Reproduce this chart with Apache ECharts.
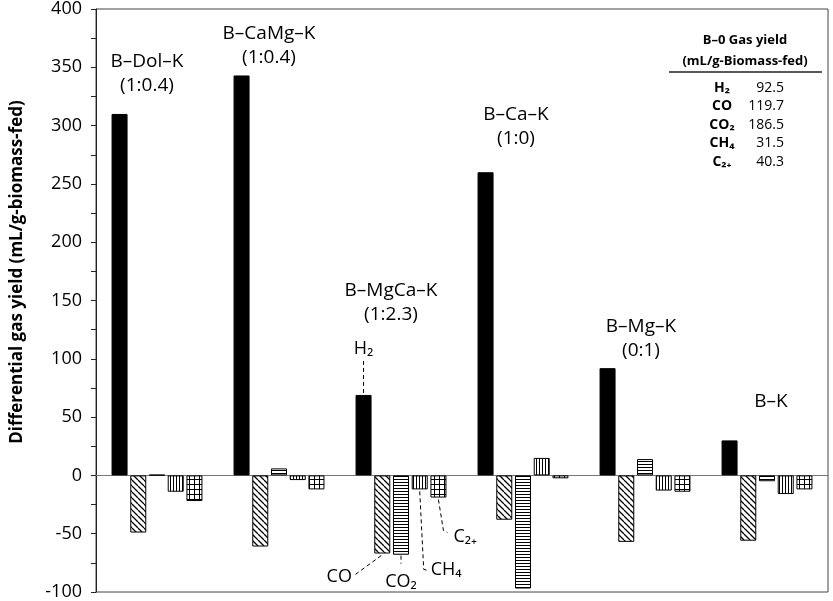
<!doctype html>
<html>
<head>
<meta charset="utf-8">
<title>Differential gas yield</title>
<script src="https://cdn.jsdelivr.net/npm/echarts@6/dist/echarts.min.js"></script>
<style>
  html, body { margin: 0; padding: 0; background: #fff; }
  #chart { width: 833px; height: 601px; }
</style>
</head>
<body>
<div id="chart"></div>
<script>
  // catalyst groups
  var catalysts = ['B–Dol–K', 'B–CaMg–K', 'B–MgCa–K', 'B–Ca–K', 'B–Mg–K', 'B–K'];
  var ratios = ['(1:0.4)', '(1:0.4)', '(1:2.3)', '(1:0)', '(0:1)', ''];
  var gases = ['H₂', 'CO', 'CO₂', 'CH₄', 'C₂₊'];

  // differential gas yield vs B-0 (mL/g-biomass-fed)
  var h2 = [310, 343, 69, 260, 92, 30];
  var co = [-49, -61, -67, -38, -57, -56];
  var co2 = [0.5, 6, -68, -97, 14, -5];
  var ch4 = [-14, -4, -12, 15, -13, -16];
  var c2plus = [-22, -12, -19, -2.5, -14, -12];

  // height (y units) of each catalyst name
  var labelY = [345, 369, 148, 299, 117, 63];

  // B-0 reference table
  var baseGases = ['H₂', 'CO', 'CO₂', 'CH₄', 'C₂₊'];
  var baseYield = ['92.5', '119.7', '186.5', '31.5', '40.3'];

  var FONT = '"Open Sans", "Noto Sans", sans-serif';
  var labelDx = [-10, -10, -10, -7, -4, 4];

  function pattern(kind) {
    var s = kind === 'diag' ? 6 : (kind === 'grid' ? 5 : 3);
    var c = document.createElement('canvas');
    c.width = s; c.height = s;
    var g = c.getContext('2d');
    g.fillStyle = '#fff';
    g.fillRect(0, 0, s, s);
    g.strokeStyle = '#000';
    g.lineWidth = kind === 'diag' ? 1.3 : 1;
    g.beginPath();
    if (kind === 'diag') {
      for (var o = -s; o <= s; o += s) { g.moveTo(o, 0); g.lineTo(o + s, s); }
    }
    if (kind === 'horiz' || kind === 'grid') { g.moveTo(0, s - 0.5); g.lineTo(s, s - 0.5); }
    if (kind === 'vert' || kind === 'grid') { g.moveTo(s - 0.5, 0); g.lineTo(s - 0.5, s); }
    g.stroke();
    return { image: c, repeat: 'repeat' };
  }

  var values = [h2, co, co2, ch4, c2plus];
  var fills = ['#000', pattern('diag'), pattern('horiz'), pattern('vert'), pattern('grid')];
  var BAR_W = 16, BAR_GAP = 0.17;

  var chart = echarts.init(document.getElementById('chart'));

  var series = gases.map(function (name, k) {
    return {
      type: 'bar',
      name: name,
      data: values[k],
      barWidth: BAR_W,
      barGap: (BAR_GAP * 100) + '%',
      silent: true,
      itemStyle: { color: fills[k], borderColor: '#000', borderWidth: 1 }
    };
  });

  function txt(x, y, s, size, extra) {
    var style = { text: s, fontFamily: FONT, fontSize: size, fill: '#000',
                  align: 'center', verticalAlign: 'middle' };
    for (var key in extra) style[key] = extra[key];
    return { type: 'text', silent: true, x: x, y: y, style: style };
  }

  // static graphic: axis title and B-0 table
  var staticGfx = [
    { type: 'text', silent: true, x: 17, y: 272, rotation: Math.PI / 2,
      style: { text: 'Differential gas yield (mL/g-biomass-fed)', fontFamily: FONT, fontSize: 17,
               fontWeight: 'bold', fill: '#000', align: 'center', verticalAlign: 'middle' } },
    txt(745, 40, 'B–0 Gas yield', 13, { fontWeight: 'bold' }),
    txt(745, 61, '(mL/g-Biomass-fed)', 13, { fontWeight: 'bold' }),
    { type: 'line', silent: true, shape: { x1: 669, y1: 72, x2: 822, y2: 72 },
      style: { stroke: '#222', lineWidth: 1.5 } }
  ];
  baseGases.forEach(function (g, i) {
    var y = 88 + i * 18.5;
    staticGfx.push(txt(722, y, g, 14, { fontWeight: 'bold' }));
    staticGfx.push(txt(784, y, baseYield[i], 14, { align: 'right' }));
  });

  var option = {
    animation: false,
    backgroundColor: '#fff',
    grid: { left: 96, right: 5, top: 9, bottom: 9, show: true, borderColor: '#444', borderWidth: 1 },
    xAxis: {
      type: 'category',
      data: catalysts,
      axisLine: { onZero: true, lineStyle: { color: '#777', width: 1 } },
      axisTick: { show: false },
      axisLabel: { show: false },
      splitLine: { show: false }
    },
    yAxis: {
      type: 'value',
      min: -100,
      max: 400,
      interval: 25,
      axisLine: { show: true, lineStyle: { color: '#222' } },
      axisTick: { show: true, length: 5, lineStyle: { color: '#222' } },
      splitLine: { show: false },
      axisLabel: {
        fontFamily: FONT, fontSize: 18, color: '#000', margin: 14,
        formatter: function (v) { return v % 50 === 0 ? String(v) : ''; }
      }
    },
    series: series,
    graphic: staticGfx
  };

  chart.setOption(option);

  var gfx = staticGfx.slice();

  // catalyst names above each group
  catalysts.forEach(function (c, i) {
    var p = chart.convertToPixel({ xAxisIndex: 0, yAxisIndex: 0 }, [i, labelY[i]]);
    var r = ratios[i];
    gfx.push(txt(p[0] + labelDx[i], p[1], c + (r ? '\n' + r : ''), 19, { lineHeight: 24 }));
  });

  // callouts on the B-MgCa-K group, offsets in px from each bar's tip
  var grp = 2;
  var callouts = [
    { k: 0, line: [[0, -2], [0, -35]], at: [0, -46], align: 'center' },
    { k: 1, line: [[-1, 2], [-27, 21]], at: [-43, 23], align: 'center' },
    { k: 2, line: [[0, 1], [0, 9]], at: [0, 27], align: 'center' },
    { k: 3, line: [[0, 2], [4, 80], [8, 81]], at: [11, 80], align: 'left' },
    { k: 4, line: [[0, 2], [5, 33], [9, 35]], at: [15, 39], align: 'left' }
  ];
  var step = BAR_W * (1 + BAR_GAP);
  callouts.forEach(function (c) {
    var p = chart.convertToPixel({ xAxisIndex: 0, yAxisIndex: 0 }, [grp, values[c.k][grp]]);
    var x0 = p[0] + (c.k - 2) * step, y0 = p[1];
    gfx.push({
      type: 'polyline', silent: true,
      shape: { points: c.line.map(function (q) { return [x0 + q[0], y0 + q[1]]; }) },
      style: { stroke: '#000', lineWidth: 1, lineDash: [4, 3], fill: null }
    });
    gfx.push(txt(x0 + c.at[0], y0 + c.at[1], gases[c.k], 18, { align: c.align }));
  });
  chart.setOption({ graphic: gfx });
</script>
</body>
</html>
